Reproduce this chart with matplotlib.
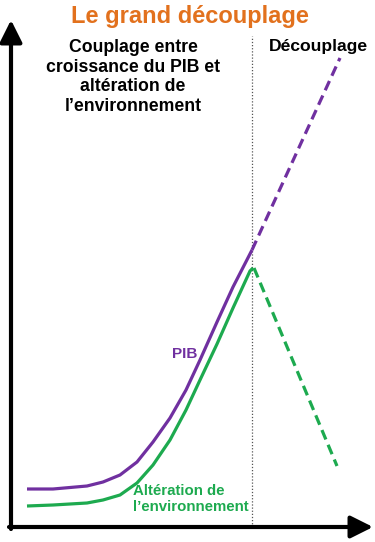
import matplotlib
matplotlib.use("Agg")
import matplotlib.pyplot as plt

# Data (x = temps, y = niveau)
pib_x = [27, 53, 87, 103, 120, 137, 153, 170, 186, 200, 217, 233, 252]
pib_y = [53, 53, 56, 60, 67, 80, 100, 124, 152, 182, 220, 255, 292]
pib_proj_x = [252, 340]
pib_proj_y = [292, 484]

env_x = [27, 53, 87, 103, 120, 137, 153, 170, 186, 200, 217, 233, 250, 253]
env_y = [36, 37, 39, 42, 47, 59, 77, 102, 132, 162, 198, 234, 271, 274]
env_proj_x = [254, 337]
env_proj_y = [274, 76]

title = "Le grand découplage"
left_text = "Couplage entre\ncroissance du PIB et\naltération de\nl\u2019environnement"
right_text = "Découplage"
pib_label = "PIB"
env_label = "Altération de\nl\u2019environnement"

W, H = 375, 542
plt.rcParams['font.family'] = ['Liberation Sans', 'DejaVu Sans']
fig = plt.figure(figsize=(3.75, 5.42), dpi=100)
ax = fig.add_axes([0, 0, 1, 1])
ax.set_xlim(0, W)
ax.set_ylim(0, H)
ax.axis("off")

purple = "#7030A0"
green = "#1DAA4F"
orange = "#E2711D"

# axes arrows
ax.annotate("", xy=(11, 522), xytext=(11, 13),
            arrowprops=dict(arrowstyle="-|>,head_length=0.9,head_width=0.45",
                            lw=3, color="black", shrinkA=0, shrinkB=0, mutation_scale=15))
ax.annotate("", xy=(373, 15), xytext=(9, 15),
            arrowprops=dict(arrowstyle="-|>,head_length=0.9,head_width=0.45",
                            lw=3, color="black", shrinkA=0, shrinkB=0, mutation_scale=15))

# dotted separator
ax.plot([252, 252], [15, 506], color="#555555", lw=0.9, ls=(0, (1, 1.5)))

# curves
ax.plot(pib_x, pib_y, color=purple, lw=2.3, solid_capstyle="butt", solid_joinstyle="round")
ax.plot(pib_proj_x, pib_proj_y, color=purple, lw=2.3, ls=(0, (3.2, 1.8)))
ax.plot(env_x, env_y, color=green, lw=2.3, solid_capstyle="butt", solid_joinstyle="round")
ax.plot(env_proj_x, env_proj_y, color=green, lw=2.3, ls=(0, (3.2, 1.8)))

# texts
ax.text(190, H - 17, title, color=orange, fontsize=17, fontweight="bold",
        ha="center", va="center")
ax.text(133, H - 77, left_text, color="black", fontsize=12.7, fontweight="bold",
        ha="center", va="center", linespacing=1.2)
ax.text(318, H - 46, right_text, color="black", fontsize=12.6, fontweight="bold",
        ha="center", va="center")
ax.text(185, H - 354, pib_label, color=purple, fontsize=11, fontweight="bold",
        ha="center", va="center")
ax.text(133, H - 499, env_label, color=green, fontsize=10.8, fontweight="bold",
        ha="left", va="center", linespacing=1.2)

fig.savefig("out.png", dpi=100)
